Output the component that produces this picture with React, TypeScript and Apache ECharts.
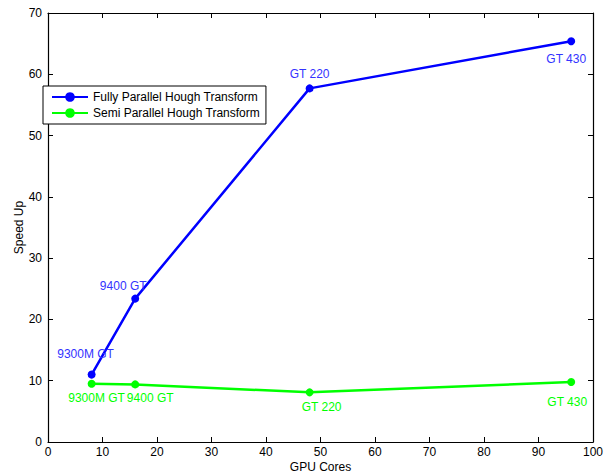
import React, { useEffect, useRef } from "react";
import * as echarts from "echarts";

const gpuCores = [8, 16, 48, 96];
const gpuNames = ["9300M GT", "9400 GT", "GT 220", "GT 430"];
const fullyParallel = [11.0, 23.4, 57.7, 65.4];
const semiParallel = [9.5, 9.4, 8.1, 9.8];
const seriesNames = ["Fully Parallel Hough Transform", "Semi Parallel Hough Transform"];

const blueLabelPos = [
  { position: "top", offset: [-6, -6] },
  { position: "top", offset: [-12, 2] },
  { position: "top", offset: [0, 1] },
  { position: "bottom", offset: [-5, 3] },
];
const greenLabelPos = [
  { position: "bottom", offset: [5, -1] },
  { position: "bottom", offset: [15, -1] },
  { position: "bottom", offset: [12, 0] },
  { position: "bottom", offset: [-4, 5] },
];

const FONT = "Liberation Sans, Arial, Helvetica, sans-serif";

export default function App() {
  const ref = useRef<HTMLDivElement>(null);
  useEffect(() => {
    document.body.style.margin = "0";
    const chart = echarts.init(ref.current!, null, { renderer: "svg" });
    const mk = (vals: number[], pos: any[]) =>
      gpuCores.map((x, i) => ({
        value: [x, vals[i]],
        name: gpuNames[i],
        label: { show: true, position: pos[i].position, offset: pos[i].offset, distance: 5 },
      }));
    const axisCommon = {
      type: "value" as const,
      axisLine: { show: true, onZero: false, lineStyle: { color: "#000", width: 1.2 } },
      axisTick: { show: true, inside: true, length: 5, lineStyle: { color: "#000" } },
      splitLine: { show: false },
    };
    chart.setOption({
      animation: false,
      backgroundColor: "#fff",
      textStyle: { fontFamily: FONT },
      grid: {
        left: 48,
        right: 15,
        top: 13,
        bottom: 32,
        containLabel: false,
        outerBoundsMode: "none",
      },
      legend: {
        orient: "vertical",
        left: 43,
        top: 86,
        padding: [5, 6, 5, 8],
        itemGap: 4,
        itemWidth: 36,
        itemHeight: 12,
        backgroundColor: "#fff",
        borderColor: "#000",
        borderWidth: 1,
        borderRadius: 0,
        textStyle: { fontSize: 12, color: "#000", fontFamily: FONT },
        data: seriesNames,
      },
      xAxis: [
        {
          ...axisCommon,
          min: 0,
          max: 100,
          interval: 10,
          position: "bottom",
          name: "GPU Cores",
          nameLocation: "middle",
          nameGap: 18,
          nameMoveOverlap: false,
          nameTextStyle: { fontSize: 12, color: "#000", fontFamily: FONT, lineHeight: 13 },
          axisLabel: { fontSize: 12, color: "#000", margin: 3, fontFamily: FONT, lineHeight: 13 },
        },
        {
          ...axisCommon,
          min: 0,
          max: 100,
          interval: 10,
          position: "top",
          axisLabel: { show: false },
        },
      ],
      yAxis: [
        {
          ...axisCommon,
          min: 0,
          max: 70,
          interval: 10,
          position: "left",
          name: "Speed Up",
          nameLocation: "middle",
          nameGap: 23,
          nameMoveOverlap: false,
          nameTextStyle: { fontSize: 12, color: "#000", fontFamily: FONT },
          axisLabel: { fontSize: 12, color: "#000", margin: 6, fontFamily: FONT },
        },
        {
          ...axisCommon,
          min: 0,
          max: 70,
          interval: 10,
          position: "right",
          axisLabel: { show: false },
        },
      ],
      series: [
        {
          name: seriesNames[0],
          type: "line",
          data: mk(fullyParallel, blueLabelPos),
          color: "#0000ff",
          symbol: "circle",
          symbolSize: 8,
          lineStyle: { color: "#0000ff", width: 2.5 },
          itemStyle: { color: "#0000ff" },
          label: {
            show: true,
            color: "#3333ff",
            fontSize: 12,
            fontFamily: FONT,
            formatter: (p: any) => p.name,
          },
          emphasis: { disabled: true },
        },
        {
          name: seriesNames[1],
          type: "line",
          data: mk(semiParallel, greenLabelPos),
          color: "#00ff00",
          symbol: "circle",
          symbolSize: 8,
          lineStyle: { color: "#00ff00", width: 2.5 },
          itemStyle: { color: "#00ff00" },
          label: {
            show: true,
            color: "#00ff00",
            fontSize: 12,
            fontFamily: FONT,
            formatter: (p: any) => p.name,
          },
          emphasis: { disabled: true },
        },
      ],
    });
    return () => chart.dispose();
  }, []);
  return <div ref={ref} style={{ width: 608, height: 474 }} />;
}
